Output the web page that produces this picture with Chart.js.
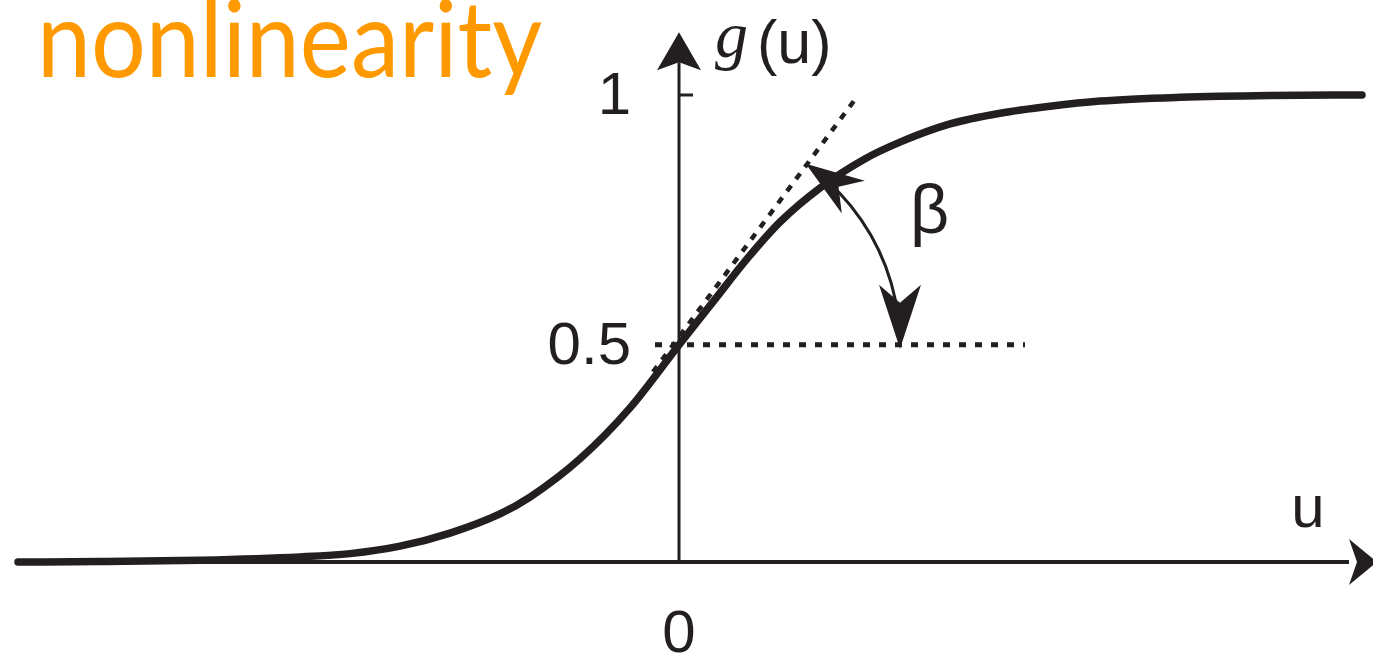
<!DOCTYPE html>
<html>
<head>
<meta charset="utf-8">
<script src="https://cdn.jsdelivr.net/npm/chart.js@4.4.1/dist/chart.umd.min.js"></script>
<style>
  html, body { margin: 0; padding: 0; background: #fff; overflow: hidden; }
  canvas { display: block; }
</style>
</head>
<body>
<canvas id="myChart" width="1373" height="655"></canvas>
<script>
// valores (u en unidades de 100px, g con 1 = asintota)
const uValues = [-6.61, -5.79, -4.79, -3.79, -3.29, -2.79, -2.29, -1.79, -1.49, -0.99, -0.49, 0,
  0.34, 0.68, 1.01, 1.41, 1.84, 2.21, 2.71, 3.21, 3.71, 4.21, 5.01, 5.91, 6.83];
const gValues = [0, 0.001, 0.004, 0.011, 0.018, 0.034, 0.062, 0.103, 0.139, 0.221, 0.330, 0.465,
  0.557, 0.649, 0.728, 0.801, 0.861, 0.899, 0.938, 0.961, 0.976, 0.987, 0.995, 0.999, 1.0];

// tangente en u = 0 y nivel 0.5
const tangentU = [-0.26, 1.79];
const tangentG = [0.407, 0.999];
const levelU = [-0.24, 3.46];
const levelG = [0.465, 0.465];

// ejes
const axisXU = [-6.61, 6.70];
const axisYG = [0, 1.07];

// ticks
const yTickValues = [0.465, 1];
const yTickLabels = ['0.5', '1'];
const xTickValues = [0];
const xTickLabels = ['0'];

const titleText = 'nonlinearity';
const xAxisLabel = 'u';
const betaLabel = 'β';

const INK = '#231f20';
const ORANGE = '#ff9900';

const toPoints = (xs, ys) => xs.map((x, i) => ({ x: x, y: ys[i] }));

const arrowHead = (ctx, tx, ty, dx, dy, len, half, notch) => {
  const px = -dy, py = dx;
  const bx = tx - dx * len, by = ty - dy * len;
  ctx.beginPath();
  ctx.moveTo(tx, ty);
  ctx.lineTo(bx + px * half, by + py * half);
  ctx.lineTo(tx - dx * notch, ty - dy * notch);
  ctx.lineTo(bx - px * half, by - py * half);
  ctx.closePath();
  ctx.fill();
};

// dibujos extra: flechas, rotulos, arco beta, titulo
const decor = {
  id: 'decor',
  afterDatasetsDraw(chart) {
    const ctx = chart.ctx;
    const xs = chart.scales.x, ys = chart.scales.y;
    const x0 = xs.getPixelForValue(0), y0 = ys.getPixelForValue(0);
    ctx.save();
    ctx.fillStyle = INK;
    ctx.strokeStyle = INK;

    // puntas de los ejes
    arrowHead(ctx, xs.getPixelForValue(axisXU[1]) + 28, y0, 1, 0, 28, 23, 20);
    arrowHead(ctx, x0, ys.getPixelForValue(axisYG[1]) - 30, 0, -1, 38, 22, 30);

    // marca del 1
    ctx.lineWidth = 3;
    ctx.beginPath();
    ctx.moveTo(x0, ys.getPixelForValue(1));
    ctx.lineTo(x0 + 14, ys.getPixelForValue(1));
    ctx.stroke();

    // rotulos de ticks
    ctx.font = '60px "Liberation Sans", Arial, sans-serif';
    ctx.textBaseline = 'alphabetic';
    ctx.textAlign = 'right';
    yTickValues.forEach((v, i) => {
      ctx.fillText(yTickLabels[i], x0 - 48, ys.getPixelForValue(v) + 19);
    });
    ctx.textAlign = 'center';
    xTickValues.forEach((v, i) => {
      ctx.fillText(xTickLabels[i], xs.getPixelForValue(v), y0 + 90);
    });
    ctx.fillText(xAxisLabel, 1308, y0 - 35);

    // g(u)
    ctx.textAlign = 'left';
    ctx.font = 'italic 66px "Liberation Serif", "DejaVu Serif", serif';
    ctx.fillText('g', 715, 57);
    ctx.font = '61px "Liberation Sans", Arial, sans-serif';
    ctx.fillText('(u)', 757, 63);

    // arco beta
    const cx = x0, cy = ys.getPixelForValue(levelG[0]);
    const r = 221;
    const a1 = -55 * Math.PI / 180;
    ctx.lineWidth = 3;
    ctx.beginPath();
    ctx.arc(cx, cy, r, a1 + 0.12, -0.2);
    ctx.stroke();
    arrowHead(ctx, cx + r * Math.cos(a1), cy + r * Math.sin(a1), Math.sin(a1), -Math.cos(a1), 58, 20, 40);
    arrowHead(ctx, cx + r, cy + 4, 0, 1, 64, 21, 46);

    ctx.font = '68px "Liberation Sans", Arial, sans-serif';
    ctx.fillText(betaLabel, 910, 233);

    // titulo naranja
    ctx.fillStyle = ORANGE;
    ctx.font = '106px Lato, "Open Sans", sans-serif';
    const w = ctx.measureText(titleText).width;
    ctx.translate(37, 77);
    ctx.scale(505 / w, 1);
    ctx.fillText(titleText, 0, 0);
    ctx.restore();
  }
};

const lineSet = (data, width, dash) => ({
  data: data,
  showLine: true,
  borderColor: INK,
  borderWidth: width,
  borderDash: dash,
  pointRadius: 0,
  fill: false
});

const curve = lineSet(toPoints(uValues, gValues), 7.5, []);
curve.cubicInterpolationMode = 'monotone';
curve.borderCapStyle = 'round';

let ctx = document.getElementById('myChart').getContext('2d');
let myChart = new Chart(ctx, {
  type: 'scatter',
  data: {
    datasets: [
      lineSet(toPoints(axisXU, [0, 0]), 4, []),
      lineSet(toPoints([0, 0], axisYG), 3, []),
      lineSet(toPoints(levelU, levelG), 5, [7, 9]),
      lineSet(toPoints(tangentU, tangentG), 4.5, [7, 8]),
      curve
    ]
  },
  options: {
    responsive: false,
    animation: false,
    devicePixelRatio: 1,
    layout: { padding: 0 },
    plugins: { legend: { display: false }, tooltip: { enabled: false } },
    scales: {
      x: { type: 'linear', min: -6.79, max: 6.94, display: false },
      y: { type: 'linear', min: -0.1991, max: 1.2034, display: false }
    }
  },
  plugins: [decor]
});
</script>
</body>
</html>
